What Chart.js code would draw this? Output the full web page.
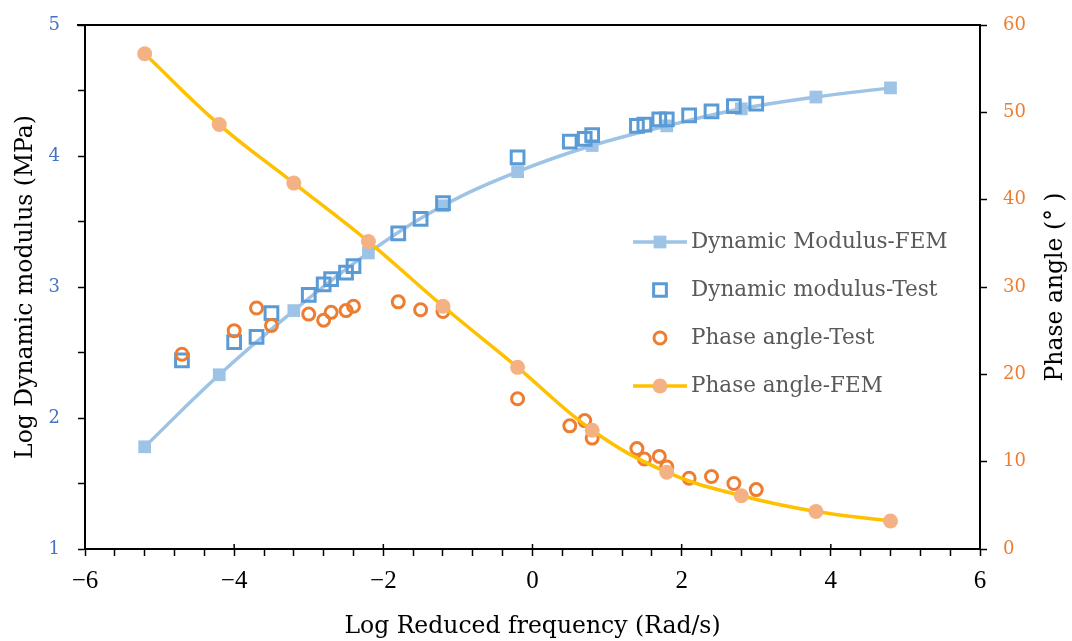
<!DOCTYPE html>
<html>
<head>
<meta charset="utf-8">
<script src="https://cdn.jsdelivr.net/npm/chart.js@4.4.1/dist/chart.umd.min.js"></script>
<style>
  html, body { margin: 0; padding: 0; background: #fff; }
  #wrap { width: 1072px; height: 641px; }
</style>
</head>
<body>
<div id="wrap"><canvas id="chart"></canvas></div>
<script>
// FEM results, sampled every decade of reduced frequency
const femFreq = [-5.2, -4.2, -3.2, -2.2, -1.2, -0.2, 0.8, 1.8, 2.8, 3.8, 4.8];
const femModulus = [1.78, 2.33, 2.82, 3.26, 3.62, 3.88, 4.08, 4.23, 4.36, 4.45, 4.52];
const femPhase = [56.7, 48.6, 41.9, 35.2, 27.8, 20.8, 13.6, 8.8, 6.1, 4.3, 3.2];

// laboratory measurements
const testFreq = [-4.7, -4.0, -3.7, -3.5, -3.0, -2.8, -2.7, -2.5, -2.4, -1.8, -1.5, -1.2,
  -0.2, 0.5, 0.7, 0.8, 1.4, 1.5, 1.7, 1.8, 2.1, 2.4, 2.7, 3.0];
const testModulus = [2.44, 2.58, 2.62, 2.80, 2.94, 3.02, 3.06, 3.11, 3.16, 3.41, 3.52, 3.64,
  3.99, 4.11, 4.13, 4.16, 4.23, 4.24, 4.28, 4.28, 4.31, 4.34, 4.38, 4.40];
const testPhase = [22.3, 25.0, 27.6, 25.6, 26.9, 26.2, 27.1, 27.3, 27.8, 28.3, 27.4, 27.2,
  17.2, 14.1, 14.7, 12.7, 11.5, 10.3, 10.6, 9.4, 8.1, 8.3, 7.5, 6.8];

const seriesNames = ['Dynamic Modulus-FEM', 'Dynamic modulus-Test', 'Phase angle-Test', 'Phase angle-FEM'];
const xMajorTicks = [-6, -4, -2, 0, 2, 4, 6];

const serif = "'DejaVu Serif', 'Liberation Serif', serif";
const toPoints = (xs, ys) => xs.map((x, i) => ({ x, y: ys[i] }));
const minus = v => (v < 0 ? '\u2212' + Math.abs(v) : String(v));

const datasets = [
  {
    label: seriesNames[0], data: toPoints(femFreq, femModulus), yAxisID: 'y',
    showLine: true, tension: 0.4, borderColor: '#9DC3E6', borderWidth: 3.5,
    pointStyle: 'rect', pointRadius: 9, pointBackgroundColor: '#9DC3E6',
    pointBorderWidth: 0, order: 3
  },
  {
    label: seriesNames[1], data: toPoints(testFreq, testModulus), yAxisID: 'y',
    showLine: false, pointStyle: 'rect', pointRadius: 9,
    pointBackgroundColor: 'rgba(0,0,0,0)', pointBorderColor: '#5B9BD5',
    pointBorderWidth: 3, order: 2
  },
  {
    label: seriesNames[2], data: toPoints(testFreq, testPhase), yAxisID: 'y1',
    showLine: false, pointStyle: 'circle', pointRadius: 6,
    pointBackgroundColor: 'rgba(0,0,0,0)', pointBorderColor: '#ED7D31',
    pointBorderWidth: 3, order: 1
  },
  {
    label: seriesNames[3], data: toPoints(femFreq, femPhase), yAxisID: 'y1',
    showLine: true, tension: 0.4, borderColor: '#FFC000', borderWidth: 3.5,
    pointStyle: 'circle', pointRadius: 7.5, pointBackgroundColor: '#F4B183',
    pointBorderWidth: 0, order: 0
  }
];

// legend drawn inside the plot, right of centre
const legendRows = [
  { y: 242, line: '#9DC3E6', style: 'rect', fill: '#9DC3E6', stroke: null, r: 9 },
  { y: 290, line: null, style: 'rect', fill: null, stroke: '#5B9BD5', r: 9 },
  { y: 338, line: null, style: 'circle', fill: null, stroke: '#ED7D31', r: 6 },
  { y: 386, line: '#FFC000', style: 'circle', fill: '#F4B183', stroke: null, r: 7.5 }
];

const framePlugin = {
  id: 'frame',
  beforeDatasetsDraw(chart) {
    const { ctx, chartArea: a, scales } = chart;
    ctx.save();
    ctx.strokeStyle = '#000';
    ctx.lineWidth = 2;
    ctx.beginPath();
    ctx.moveTo(a.left - 8, a.top);
    ctx.lineTo(a.right + 1, a.top);
    ctx.stroke();
    // major x ticks poke slightly above the axis line
    ctx.lineWidth = 1.5;
    xMajorTicks.forEach(v => {
      const px = scales.x.getPixelForValue(v);
      ctx.beginPath();
      ctx.moveTo(px, a.bottom - 5);
      ctx.lineTo(px, a.bottom);
      ctx.stroke();
    });
    // right-hand axis title, reading bottom to top
    ctx.translate(1056, (a.top + a.bottom) / 2);
    ctx.rotate(-Math.PI / 2);
    ctx.fillStyle = '#000';
    ctx.font = '23.5px ' + serif;
    ctx.textAlign = 'center';
    ctx.textBaseline = 'middle';
    ctx.fillText('Phase angle (\u00B0 )', 0, 0);
    ctx.restore();
  },
  afterDraw(chart) {
    const { ctx } = chart;
    ctx.save();
    legendRows.forEach((row, i) => {
      const cx = 660;
      if (row.line) {
        ctx.strokeStyle = row.line;
        ctx.lineWidth = 3.5;
        ctx.beginPath();
        ctx.moveTo(633, row.y);
        ctx.lineTo(687, row.y);
        ctx.stroke();
      }
      ctx.beginPath();
      if (row.style === 'rect') {
        const s = row.r * Math.SQRT1_2;
        ctx.rect(cx - s, row.y - s, 2 * s, 2 * s);
      } else {
        ctx.arc(cx, row.y, row.r, 0, Math.PI * 2);
      }
      if (row.fill) { ctx.fillStyle = row.fill; ctx.fill(); }
      if (row.stroke) { ctx.strokeStyle = row.stroke; ctx.lineWidth = 3; ctx.stroke(); }
      ctx.fillStyle = '#595959';
      ctx.font = '21.5px ' + serif;
      ctx.textBaseline = 'middle';
      ctx.textAlign = 'left';
      ctx.fillText(seriesNames[i], 691, row.y);
    });
    ctx.restore();
  }
};

const tickGrid = {
  display: true, drawOnChartArea: false, drawTicks: true,
  tickLength: 7, tickColor: '#000', tickWidth: 1.5
};
const axisBorder = { display: true, color: '#000', width: 2 };
const noLabelPadding = s => { s.paddingTop = 0; s.paddingBottom = 0; };

new Chart(document.getElementById('chart'), {
  type: 'scatter',
  data: { datasets },
  plugins: [framePlugin],
  options: {
    responsive: true,
    maintainAspectRatio: false,
    animation: false,
    layout: { padding: { top: 25, left: 0, right: 0, bottom: 0 } },
    plugins: { legend: { display: false }, tooltip: { enabled: false } },
    scales: {
      x: {
        type: 'linear', min: -6, max: 6,
        ticks: {
          stepSize: 0.4, autoSkip: false, maxRotation: 0, padding: 10,
          color: '#000', font: { family: "'Liberation Serif', serif", size: 25 },
          callback: v => (Math.abs(v / 2 - Math.round(v / 2)) < 1e-6 ? minus(Math.round(v)) : '')
        },
        grid: tickGrid, border: axisBorder,
        title: {
          display: true, text: 'Log Reduced frequency (Rad/s)', color: '#000',
          font: { family: serif, size: 23.5 }, padding: { top: 0, bottom: 0 }
        },
        afterFit: s => { s.height = 92; }
      },
      y: {
        type: 'linear', position: 'left', min: 1, max: 5,
        ticks: {
          stepSize: 0.5, autoSkip: false, padding: 18, color: '#4472C4',
          font: { family: serif, size: 18 },
          callback: v => (Number.isInteger(v) ? String(v) : '')
        },
        grid: tickGrid, border: axisBorder,
        title: {
          display: true, text: 'Log Dynamic modulus (MPa)', color: '#000',
          font: { family: serif, size: 23.5 }, padding: { top: 12, bottom: 0 }
        },
        afterFit: s => { s.width = 85; noLabelPadding(s); }
      },
      y1: {
        type: 'linear', position: 'right', min: 0, max: 60,
        ticks: {
          stepSize: 10, autoSkip: false, padding: 16, color: '#ED7D31',
          font: { family: serif, size: 18 }
        },
        grid: tickGrid, border: axisBorder,
        afterFit: s => { s.width = 92; noLabelPadding(s); }
      }
    }
  }
});
</script>
</body>
</html>
